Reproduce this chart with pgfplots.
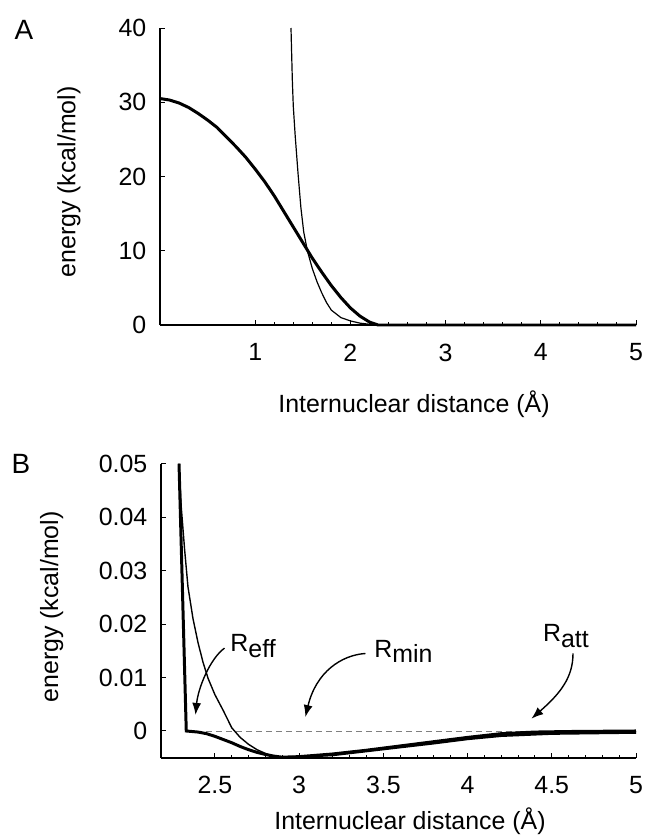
\documentclass[border=0pt]{standalone}
\usepackage{fontspec}
\setmainfont{Liberation Sans}
\usepackage{pgfplots}
\pgfplotsset{compat=1.18}
\usetikzlibrary{arrows.meta}

\newcommand{\sub}[1]{\raisebox{-2.8bp}{#1}}

\begin{document}
\fontsize{12.5}{15}\selectfont
\begin{tikzpicture}
\useasboundingbox (0,0) rectangle (323.5bp,-418bp);
\pgfplotsset{
  every axis/.append style={
    scale only axis,
    axis lines=left,
    axis line style={-, line width=0.8pt},
    tick align=inside,
    major tick length=2.5bp,
    minor tick length=1.5bp,
    tick style={black, line width=0.5pt},
    /pgf/number format/assume math mode=true,
    scaled x ticks=false, scaled y ticks=false,
    clip=false,
    font=\fontsize{12.5}{15}\selectfont,
    yticklabel style={xshift=-2.5bp},
  }
}

% panel A
\begin{axis}[
  at={(80bp,-162.5bp)}, anchor=south west,
  width=238bp, height=148.5bp,
  xmin=0, xmax=5, ymin=0, ymax=40,
  xtick={1,2,3,4,5}, ytick={0,10,20,30,40},
  minor x tick num=4,
  xticklabel style={yshift=-5bp},
]
% thick curve
\addplot[black, line width=1.5pt] coordinates {
(0,30.5) (0.1,30.3) (0.2,29.9) (0.3,29.3) (0.4,28.5) (0.5,27.6) (0.6,26.6)
(0.7,25.3) (0.8,24.0) (0.9,22.6) (1.0,21.0) (1.1,19.3) (1.2,17.4) (1.3,15.3)
(1.4,13.2) (1.5,11.1) (1.6,9.0) (1.7,7.1) (1.8,5.3) (1.9,3.7) (2.0,2.3)
(2.1,1.2) (2.2,0.4) (2.29,0) (5,0)};
% thin curve
\addplot[black, line width=0.6pt] coordinates {
(1.376,40) (1.39,33) (1.40,29.5) (1.42,25.5) (1.45,20.4) (1.48,15.8)
(1.51,12.5) (1.55,9.9) (1.6,7.6) (1.65,5.8) (1.7,4.3) (1.75,3.0) (1.8,2.0)
(1.9,1.0) (2.0,0.55) (2.1,0.25) (2.2,0.1) (2.35,0) (5,0)};
\end{axis}

% panel B
\begin{axis}[
  at={(80.5bp,-378.85bp)}, anchor=south west,
  width=237.5bp, height=147bp,
  xmin=2.18, xmax=5, ymin=-0.005, ymax=0.05,
  xtick={2.5,3,3.5,4,4.5,5}, xticklabels={2.5,3,3.5,4,4.5,5},
  ytick={0,0.01,0.02,0.03,0.04,0.05},
  yticklabels={0,0.01,0.02,0.03,0.04,0.05},
  minor x tick num=4,
  xticklabel style={yshift=-5bp},
]
\addplot[gray, line width=0.4pt, dash pattern=on 3bp off 2bp] coordinates {(2.45,0) (5,0)};
% thin curve
\addplot[black, line width=0.7pt] coordinates {
(2.287,0.05) (2.30,0.042) (2.32,0.034) (2.34,0.027) (2.37,0.021) (2.40,0.0165)
(2.43,0.0128) (2.46,0.0098) (2.50,0.0068) (2.55,0.0038) (2.60,0.0006)
(2.65,-0.0012) (2.70,-0.0025) (2.75,-0.0035) (2.80,-0.0042) (2.85,-0.0047)
(2.90,-0.0049) (2.95,-0.0049) (3.0,-0.0048) (3.2,-0.0043) (3.5,-0.0032)
(3.8,-0.0020) (4.0,-0.0013) (4.2,-0.0007) (4.5,-0.0003) (5.0,-0.0001)};
% thick curves
\addplot[black, line width=1.5pt] coordinates {
(2.287,0.05) (2.33,0.0) (2.40,-0.0002) (2.45,-0.0005) (2.50,-0.001)
(2.55,-0.0016) (2.60,-0.0022) (2.65,-0.0029) (2.70,-0.0035) (2.75,-0.004)
(2.80,-0.0044) (2.85,-0.0047) (2.9,-0.0049) (3.0,-0.0048) (3.2,-0.0043)
(3.4,-0.0036) (3.6,-0.0028) (3.8,-0.0020) (4.0,-0.0012) (4.2,-0.0005)
(4.4,-0.0002) (4.6,-0.0001) (5.0,0)};
\addplot[black, line width=1.2pt] coordinates {
(2.9,-0.005) (3.2,-0.0045) (3.5,-0.0034) (3.8,-0.0023) (4.0,-0.0015)
(4.2,-0.0009) (4.5,-0.0005) (5.0,-0.0003)};

% annotations
\node[anchor=base west, inner sep=0] at (axis cs:2.59,0.0148) {R\sub{eff}};
\node[anchor=base west, inner sep=0] at (axis cs:3.444,0.0138) {R\sub{min}};
\node[anchor=base west, inner sep=0] at (axis cs:4.446,0.0167) {R\sub{att}};
\draw[line width=0.7pt, -{Latex[length=6bp,width=4.5bp]}]
  (axis cs:2.557,0.0155) .. controls (axis cs:2.47,0.0135) and (axis cs:2.40,0.008) .. (axis cs:2.385,0.003);
\draw[line width=0.7pt, -{Latex[length=6bp,width=4.5bp]}]
  (axis cs:3.394,0.0145) .. controls (axis cs:3.25,0.0142) and (axis cs:3.10,0.011) .. (axis cs:3.037,0.0026);
\draw[line width=0.7pt, -{Latex[length=6bp,width=4.5bp]}]
  (axis cs:4.626,0.0145) .. controls (axis cs:4.626,0.010) and (axis cs:4.55,0.007) .. (axis cs:4.379,0.0023);
\end{axis}

% panel letters and axis titles
\node[font=\fontsize{14}{16}\selectfont] at (12bp,-15bp) {A};
\node[font=\fontsize{14}{16}\selectfont] at (10.5bp,-232bp) {B};
\node[rotate=90] at (34.5bp,-91bp) {energy (kcal/mol)};
\node[rotate=90] at (25.8bp,-303.5bp) {energy (kcal/mol)};
\node at (207bp,-202bp) {Internuclear distance (Å)};
\node at (205bp,-410.5bp) {Internuclear distance (Å)};
\end{tikzpicture}
\end{document}
